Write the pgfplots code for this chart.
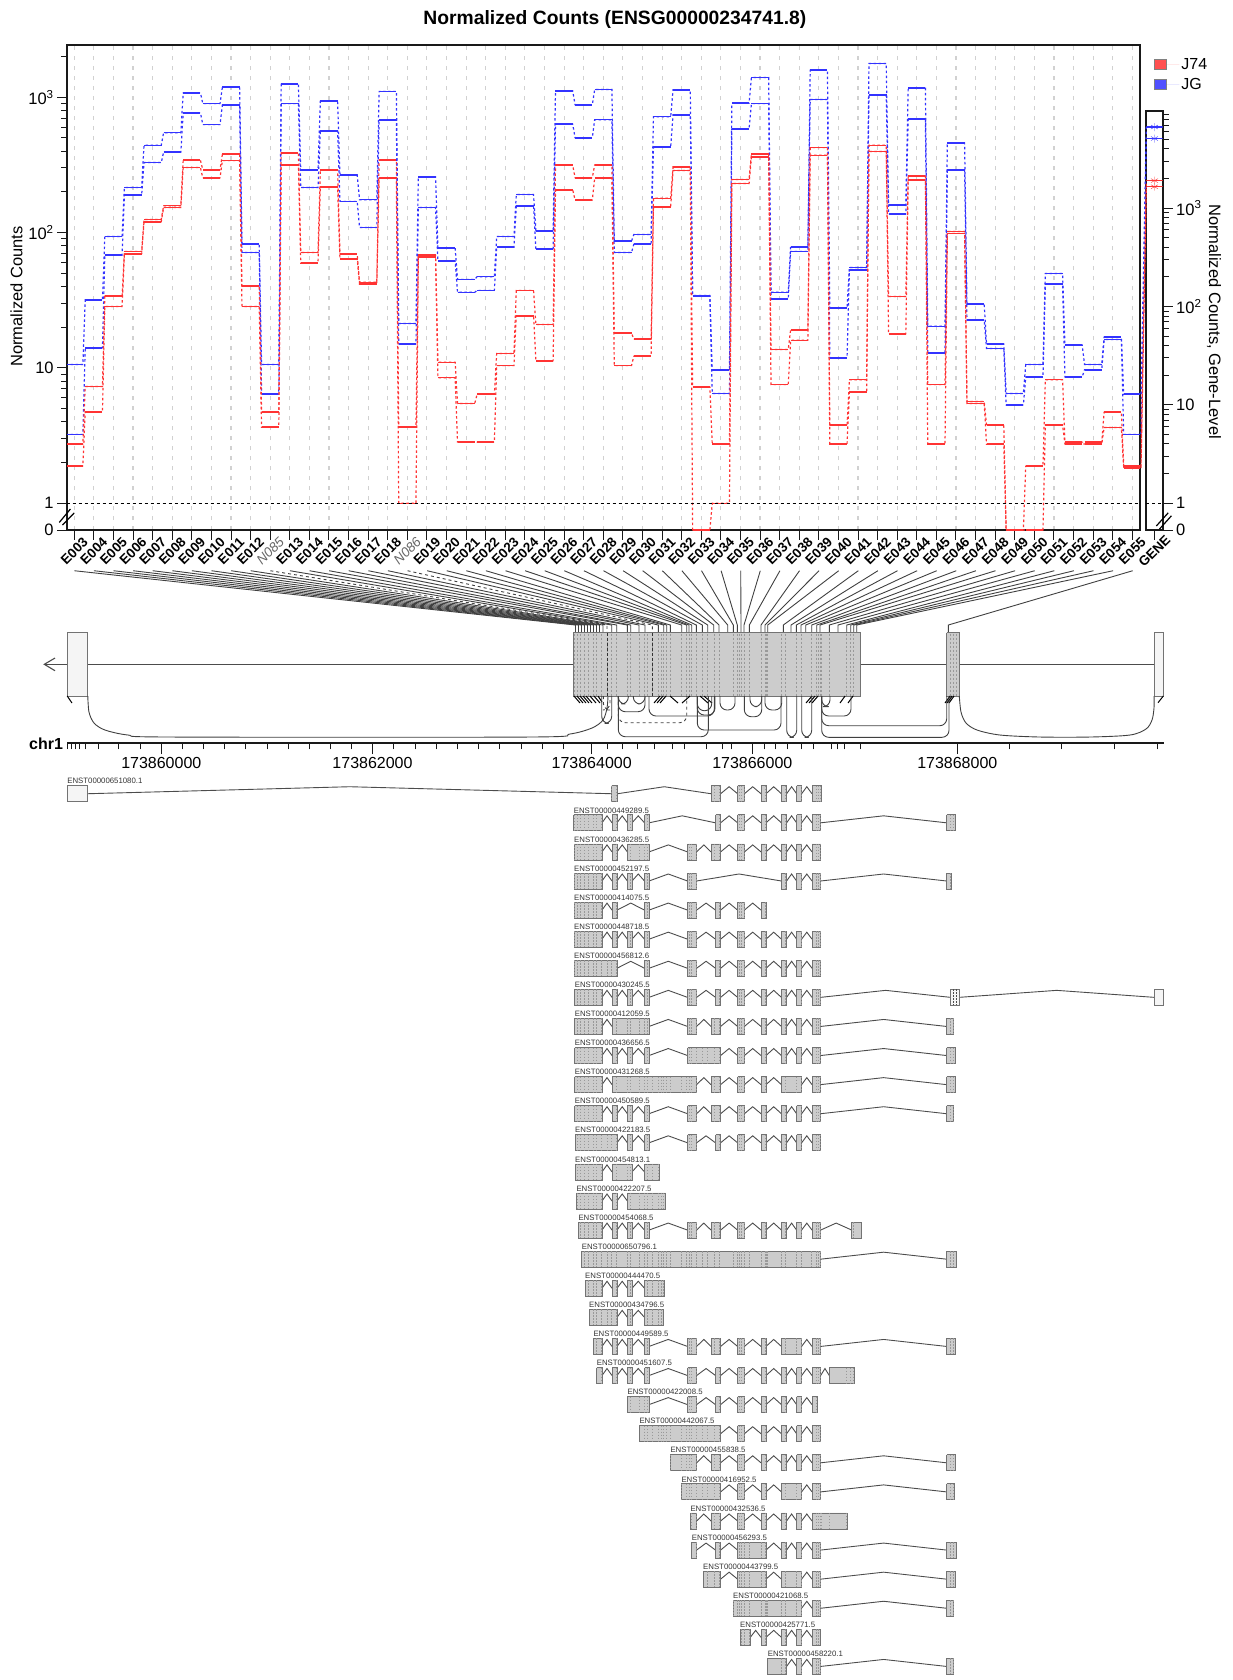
\documentclass[border=0pt]{standalone}
\usepackage{fontspec}
\setmainfont{Liberation Sans}
\usepackage{pgfplots}
\usepackage{pgfplotstable}
\pgfplotsset{compat=1.18}

\definecolor{lred}{HTML}{FF3333}
\definecolor{lblue}{HTML}{3333FF}
\definecolor{boxred}{HTML}{FF5050}
\definecolor{boxblue}{HTML}{5050FF}
\definecolor{exongray}{HTML}{CCCCCC}
\definecolor{exonlight}{HTML}{F5F5F5}

% 0.635 stands for the broken "0" level of the log axis
\pgfplotstableread{
idx bh bl rh rl
0 10.6 3.23 2.74 1.89
1 31.9 14.1 7.29 4.74
2 93.6 68 33.9 28.4
3 215 189 72.6 69.8
4 441 329 125 120
5 547 392 158 153
6 1076 767 342 302
7 896 627 291 254
8 1186 879 379 340
9 82.1 71.2 40.1 28.4
10 10.6 6.44 4.71 3.65
11 1249 896 389 316
12 289 215 71.2 59.3
13 938 565 291 218
14 267 170 69.3 64.1
15 175 109 42.9 41.5
16 1104 678 344 252
17 21.3 15.1 3.65 1
18 258 153 68 66.2
19 77 61.7 11 8.47
20 45.1 36.2 5.47 2.83
21 47.2 37.4 6.4 2.83
22 93.6 78 12.8 10.4
23 191 157 37.4 24.3
24 103 75.5 20.9 11.3
25 1111 631 314 207
26 879 502 254 174
27 1140 682 316 252
28 86.5 71.2 18.1 10.4
29 96.7 82.1 16.3 12.2
30 718 430 179 155
31 1133 742 306 287
32 34.3 34.1 7.24 0.635
33 9.64 6.48 2.73 1
34 902 583 247 230
35 1396 896 379 362
36 36.2 32.4 13.7 7.53
37 78.5 72.6 19.1 16
38 1580 963 424 372
39 27.7 11.9 3.78 2.73
40 55.2 52.7 8.19 6.61
41 1775 1042 441 397
42 160 137 33.7 17.9
43 1164 687 262 245
44 20.3 12.9 7.53 2.73
45 458 291 102 98.6
46 29.7 22.5 5.65 5.47
47 15 13.9 3.78 2.73
48 6.48 5.33 0.635 0.635
49 10.6 8.58 1.88 0.635
50 49.8 41.7 8.19 3.78
51 14.8 8.58 2.83 2.74
52 10.6 9.7 2.83 2.74
53 16.9 16.2 4.71 3.63
54 6.4 3.23 1.88 1.83
}\counts

\pgfplotsset{
  stepdots/.style={forget plot,no markers,line width=1.2pt,dash pattern=on 2.5pt off 2.5pt},
  stepbars/.style={forget plot,no markers,solid,line width=1.6pt,unbounded coords=jump},
  genemark/.style={only marks,mark=asterisk,mark size=4pt,
    error bars/x dir=both,error bars/x fixed=1,error bars/error mark=none,
    error bars/error bar style={line width=1.4pt}},
  exon/.style={draw=black!55,fill=exongray,line width=0.8pt,unbounded coords=jump,no markers},
  intron/.style={draw=black!70,line width=0.9pt,unbounded coords=jump,no markers},
  bindash/.style={draw=black!40,line width=0.5pt,dash pattern=on 1.5pt off 1.5pt,unbounded coords=jump,no markers},
  jarc/.style={draw=black!75,line width=0.9pt,no markers,rounded corners=7pt},
  conn/.style={draw=black!75,line width=0.9pt,no markers,unbounded coords=jump},
}

% one series: dotted path over all bins, solid bar on each bin
\newcommand\stepseries[2]{%
  \gdef\pts{}\gdef\bars{}%
  \foreach \i in {0,...,54} {%
    \pgfplotstablegetelem{\i}{#1}\of\counts
    \let\v\pgfplotsretval
    \pgfmathsetmacro\lft{\i-0.44}%
    \pgfmathsetmacro\rgt{\i+0.44}%
    \xdef\pts{\pts(\lft,\v)(\rgt,\v)}%
    \xdef\bars{\bars(\lft,\v)(\rgt,\v)(\rgt,nan)}%
  }%
  \edef\temp{\noexpand\addplot[stepdots,#2] coordinates {\pts};
    \noexpand\addplot[stepbars,#2] coordinates {\bars};}\temp
}

% exon bin boundaries, in page pixels of the rescaled gene axis
\def\binbounds{574.3,577.3,580.7,584.3,588.3,593,596,601.7,607,611.7,616.7,627.3,630.7,639,644.3,647.7,652.3,658.3,661.7,663.7,666,670.7,681.7,686.7,689,691.7,696.3,702.3,707.7,714,719.7,733.3,737.3,739,741,744,749.3,761,765,766.7,767.7,781,785.7,796.3,801,811.7,816.7,818.3,820,821.7,829.3,846.7,850.7,853.7,950,953,956}
\def\binpos{575.5,578.5,581.5,584.5,587.5,590.5,593.5,596.5,599.5,603,607,611.7,616.7,627.3,630.7,639,645,652.3,658.3,663.7,666.7,670.3,681.7,686.7,689,691.7,696.3,702.3,707.7,713.7,719,727.7,733.3,737.3,741,744,749.3,761,765,767.7,783.3,791,796.3,801,805.7,811.7,816.7,820,829.3,838,846.7,850.7,853.7,856.7,948.3}

% usual exons
\def\eB{612/617}\def\eC{627.4/632}\def\eD{644.5/649}\def\eF{687.5/696.6}
\def\eG{711/720.6}\def\eS{715.5/720.6}\def\eH{737.6/744.4}\def\eI{761/766}
\def\eJ{781.4/786.6}\def\eK{796.6/801.6}\def\eL{812/820.6}\def\eM{946.6/955}

\newcommand\transcript[3]{%
  \pgfmathsetmacro\yt{785.7+29.09*(#1-1)}%
  \pgfmathsetmacro\yb{\yt+16}%
  \pgfmathsetmacro\ym{\yt+8}%
  \pgfmathsetmacro\yp{\yt+1}%
  \pgfmathsetmacro\yl{\yt-4.5}%
  \edef\exonlist{#3}%
  \gdef\boxes{}\gdef\introns{}\gdef\inner{}\gdef\prev{}\gdef\first{}%
  \foreach \a/\b in \exonlist {%
    \xdef\boxes{\boxes(\a,\yt)(\b,\yt)(\b,\yb)(\a,\yb)(\a,\yt)(\a,nan)}%
    \ifx\prev\empty\xdef\first{\a}\else
      \pgfmathsetmacro\mm{(\prev+\a)/2}%
      \xdef\introns{\introns(\prev,\ym)(\mm,\yp)(\a,\ym)(\a,nan)}%
    \fi
    \xdef\prev{\b}%
    \foreach \s in \binbounds {%
      \ifdim\s pt>\a pt\ifdim\s pt<\b pt
        \xdef\inner{\inner(\s,\yt)(\s,\yb)(\s,nan)}%
      \fi\fi}%
  }%
  \edef\temp{\noexpand\addplot[intron] coordinates {\introns};
    \noexpand\addplot[exon] coordinates {\boxes};
    \noexpand\addplot[bindash] coordinates {\inner};
    \noexpand\node[anchor=west,inner sep=0pt,font=\noexpand\fontsize{7.8}{9}\noexpand\selectfont,text=black!80]
      at (axis cs:\first,\yl) {#2};}\temp
}
\newcommand\junc[3]{\addplot[jarc] coordinates {(#1,696)(#1,#3)(#2,#3)(#2,696)};}

\begin{document}
\begin{tikzpicture}
\path[use as bounding box] (0,0) rectangle (1233pt,-1680pt);

% main panel
\begin{axis}[
  at={(67.2pt,-530pt)},anchor=south west,
  width=1072.8pt,height=485.2pt,scale only axis,
  ymode=log,
  xmin=-0.36,xmax=54.39,ymin=0.635,ymax=2438,
  axis line style={line width=1.8pt,black!90},
  tick align=outside,xtick pos=bottom,ytick pos=left,
  major tick length=10pt,minor tick length=6pt,
  every tick/.style={black!90,line width=1pt},
  xtick={0,...,54},
  xticklabels={E003,E004,E005,E006,E007,E008,E009,E010,E011,E012,{\mdseries\itshape\color{black!60}N085},E013,E014,E015,E016,E017,E018,{\mdseries\itshape\color{black!60}N086},E019,E020,E021,E022,E023,E024,E025,E026,E027,E028,E029,E030,E031,E032,E033,E034,E035,E036,E037,E038,E039,E040,E041,E042,E043,E044,E045,E046,E047,E048,E049,E050,E051,E052,E053,E054,E055},
  ytick={0.635,1,10,100,1000},
  yticklabels={0,1,10,10\textsuperscript{2},10\textsuperscript{3}},
  minor ytick={2,3,4,5,6,7,8,9,20,30,40,50,60,70,80,90,200,300,400,500,600,700,800,900,2000},
  y tick label style={font=\fontsize{16.5}{19}\selectfont},
  x tick label style={font=\bfseries\fontsize{13.5}{15}\selectfont,yshift=-11pt,rotate=45,anchor=center},
  xmajorgrids,
  grid style={black!18,line width=1.1pt,dash pattern=on 4pt off 6pt},
  title={Normalized Counts (ENSG00000234741.8)},
  title style={at={(axis description cs:0.5106,1.039)},anchor=center,font=\bfseries\fontsize{19.3}{22}\selectfont},
  ylabel={Normalized Counts},
  ylabel style={at={(axis description cs:-0.0472,0.481)},anchor=center,font=\fontsize{16.5}{19}\selectfont},
  legend style={at={(axis description cs:1.0103,0.981)},anchor=north west,draw=none,fill=none,
    font=\fontsize{16}{18}\selectfont,row sep=3.5pt},
  legend cell align=left,
  legend image code/.code={\draw[#1] (0pt,-5pt) rectangle (12pt,5pt);\path[draw=none] (0pt,0pt) -- (25pt,0pt);},
]
\addlegendimage{fill=boxred,draw=black!50}
\addlegendentry{J74}
\addlegendimage{fill=boxblue,draw=black!50}
\addlegendentry{JG}
\stepseries{bh}{lblue}
\stepseries{bl}{lblue}
\stepseries{rh}{lred}
\stepseries{rl}{lred}
\addplot[forget plot,black,line width=1.1pt,dash pattern=on 3pt off 3pt] coordinates {(-1,1)(55,1)};
\end{axis}

% gene-level panel
\begin{axis}[
  at={(1146.3pt,-530pt)},anchor=south west,
  width=16.3pt,height=419pt,scale only axis,
  ymode=log,
  xmin=-1,xmax=1,ymin=0.534,ymax=9730,
  axis line style={line width=1.8pt,black!90},
  tick align=outside,xtick pos=bottom,ytick pos=right,yticklabel pos=right,
  major tick length=10pt,minor tick length=6pt,
  every tick/.style={black!90,line width=1pt},
  xtick={0},xticklabels={GENE},
  ytick={0.534,1,10,100,1000},
  yticklabels={0,1,10,10\textsuperscript{2},10\textsuperscript{3}},
  minor ytick={2,3,4,5,6,7,8,9,20,30,40,50,60,70,80,90,200,300,400,500,600,700,800,900,2000,3000,4000,5000,6000,7000,8000,9000},
  y tick label style={font=\fontsize{16.5}{19}\selectfont},
  x tick label style={font=\bfseries\fontsize{13.5}{15}\selectfont,yshift=-11pt,rotate=45,anchor=center},
  ylabel={Normalized Counts, Gene-Level},
  ylabel style={at={(axis description cs:4.15,0.4976)},anchor=center,rotate=180,font=\fontsize{16.5}{19}\selectfont},
]
\addplot[lblue,genemark] coordinates {(0,6683)(0,5105)};
\addplot[lred,genemark] coordinates {(0,1906)(0,1652)};
\addplot[black,line width=1.1pt,dash pattern=on 3pt off 3pt] coordinates {(-1,1)(1,1)};
\end{axis}

% chromosome axis
\begin{axis}[
  at={(67.2pt,-743.3pt)},anchor=south west,
  width=1096.5pt,height=10pt,scale only axis,
  xmin=67.2,xmax=1163.7,ymin=0,ymax=1,
  axis x line=bottom,axis y line=none,
  axis line style={-,line width=2pt,black!90},
  tick align=outside,
  major tick length=10.7pt,minor tick length=6pt,
  every tick/.style={black!90,line width=1pt},
  xtick={161.3,372.5,591.7,752.3,957.3},
  xticklabels={173860000,173862000,173864000,173866000,173868000},
  minor xtick={67.2,71.2,75.1,79,85,98,118.6,140,182.3,203.6,224.6,245.6,267,288.3,309.6,330.6,351.5,393.8,415.2,436.1,457.5,478.5,499.8,521.2,542.1,563.5,607.3,622.3,637.7,654.3,672.7,684.3,706.7,722.7,731.7,764.3,775.7,787.7,801.7,813.3,831,837.7,844.3,860,1009,1061.7,1114.3,1157.3},
  x tick label style={font=\fontsize{16}{18}\selectfont,anchor=center,yshift=-9pt},
  xlabel={chr1},
  xlabel style={at={(axis description cs:-0.0193,0)},anchor=center,font=\bfseries\fontsize{16}{18}\selectfont},
]
\end{axis}

% gene model, connectors and transcripts, in page pixels
\begin{axis}[
  at={(0pt,-1680pt)},anchor=south west,
  width=1233pt,height=1680pt,scale only axis,
  xmin=0,xmax=1233,ymin=0,ymax=1680,y dir=reverse,
  hide axis,clip=false,
]
% lines from E055 to the gene-level panel
\addplot[lblue,line width=1.2pt,dash pattern=on 2.5pt off 2.5pt] coordinates {(1141,394)(1146.3,127)};
\addplot[lblue,line width=1.2pt,dash pattern=on 2.5pt off 2.5pt] coordinates {(1141,434)(1146.3,138.5)};
\addplot[lred,line width=1.2pt,dash pattern=on 2.5pt off 2.5pt] coordinates {(1141,466)(1146.3,180.6)};
\addplot[lred,line width=1.2pt,dash pattern=on 2.5pt off 2.5pt] coordinates {(1141,468)(1146.3,186.8)};
% axis breaks
\addplot[conn,black,line width=1.2pt] coordinates {(59.3,522.4)(70.4,509)(70.4,nan)(62.5,525)(74.3,512.8)};
\addplot[conn,black,line width=1.2pt] coordinates {(1156.3,526)(1168.2,512.8)(1168.2,nan)(1159.5,529)(1171.4,515.8)};
% label to bin connectors
\foreach \p [count=\i from 0] in \binpos {
  \pgfmathsetmacro\tx{74.3+19.6*\i}
  \ifnum\i=10 \def\st{dashed}\else\ifnum\i=17 \def\st{dashed}\else\def\st{solid}\fi\fi
  \edef\temp{\noexpand\addplot[conn,\st] coordinates {(\tx,570.7)(\p,625)(\p,632.7)};}\temp
}
% gene body
\addplot[draw=black!70,line width=1.1pt] coordinates {(44.3,664.3)(1154,664.3)};
\addplot[draw=black!70,line width=1.1pt] coordinates {(55,658)(44.3,664.3)(55,670.7)};
\addplot[exon,fill=exonlight] coordinates {(67.2,632.7)(87.8,632.7)(87.8,696)(67.2,696)(67.2,632.7)};
\addplot[exon] coordinates {(573.3,632.7)(860.3,632.7)(860.3,696)(573.3,696)(573.3,632.7)};
\addplot[exon] coordinates {(946.7,632.7)(959.3,632.7)(959.3,696)(946.7,696)(946.7,632.7)};
\addplot[exon,fill=exonlight] coordinates {(1154,632.7)(1163.3,632.7)(1163.3,696)(1154,696)(1154,632.7)};
\foreach \s in \binbounds {
  \edef\temp{\noexpand\addplot[bindash,dash pattern=on 2pt off 2pt] coordinates {(\s,633.5)(\s,695.5)};}\temp
}
\addplot[draw=black!80,line width=0.9pt,dash pattern=on 3pt off 2pt] coordinates {(607,632.7)(607,696)};
\addplot[draw=black!80,line width=0.9pt,dash pattern=on 3pt off 2pt] coordinates {(652.3,632.7)(652.3,696)};
% junction stubs
\addplot[conn,black,line width=1pt] coordinates {(574,696)(580,703)(580,nan)(577,696)(583,703)(583,nan)(580,696)(586,703)(586,nan)(583,696)(589,703)(589,nan)(586,696)(592,703)(592,nan)(590,696)(596,703)(596,nan)(594,696)(600,703)(600,nan)(598,696)(602,702)(602,nan)(660,696)(654,703)(654,nan)(663,696)(657,703)(657,nan)(666,696)(660,703)(660,nan)(670,696)(678,703)(678,nan)(690,696)(682,703)(682,nan)(700,696)(708,703)(708,nan)(704,696)(712,703)(712,nan)(812,696)(806,703)(806,nan)(815,696)(809,703)(809,nan)(818,696)(812,703)(812,nan)(845,696)(840,703)(840,nan)(853,696)(848,703)(848,nan)(67.2,696)(72,703)(72,nan)(1163.3,696)(1158,702.7)(1158,nan)(950,696)(945,703)(945,nan)(952,696)(947,703)(947,nan)(954,696)(949,703)};
% splice junctions
\addplot[jarc,smooth,rounded corners=0pt] coordinates {(87.8,696)(89,712)(94,723)(105,730)(128,735)(170,737)(530,737)(570,734)(592,728)(603,720)(607,708)(608,696)};
\addplot[jarc,smooth,rounded corners=0pt] coordinates {(959.3,696)(961,712)(966,723)(977,730)(1000,735)(1040,737)(1090,737)(1130,735)(1146,729)(1152,720)(1154,708)(1154,696)};
\junc{601.7}{611.7}{723.3}
\addplot[jarc,dashed] coordinates {(603.3,696)(603.3,710)(610,710)(610,696)};
\junc{618.3}{628.3}{704}
\junc{618.3}{645}{711.7}
\addplot[jarc,dashed] coordinates {(618.3,696)(618.3,722.7)(686.7,722.7)(686.7,696)};
\junc{618.3}{708.3}{736.7}
\junc{633.3}{645}{704}
\junc{649}{714.3}{716}
\junc{697.3}{711.7}{710.7}
\junc{697.3}{781}{730}
\junc{697.3}{715}{715}
\junc{720}{735}{710}
\junc{744.3}{761.7}{716.7}
\junc{750}{761.7}{706.7}
\junc{765}{781.7}{710}
\junc{786.7}{796.7}{737.3}
\junc{801.7}{811.7}{737.3}
\junc{821.7}{830}{706.7}
\junc{821.7}{851}{716}
\junc{821.7}{946.7}{725.7}
\junc{821.7}{949}{737.3}
% transcripts
\transcript{1}{ENST00000651080.1}{67.2/87.8,611.5/617.5,711/720.6,\eH,\eI,\eJ,\eK,812/821}
\transcript{2}{ENST00000449289.5}{573.7/602,\eB,\eC,\eD,\eS,\eH,\eI,\eJ,\eK,\eL,\eM}
\transcript{3}{ENST00000436285.5}{574/602,\eB,627.4/649,\eF,\eG,\eH,\eI,\eJ,\eK,\eL}
\transcript{4}{ENST00000452197.5}{574/602,\eB,\eC,\eD,\eF,\eJ,\eK,\eL,946.6/951.5}
\transcript{5}{ENST00000414075.5}{574/602,\eB,\eD,\eF,\eS,\eH,\eI}
\transcript{6}{ENST00000448718.5}{574/602,\eB,\eC,\eD,\eF,\eS,\eH,\eI,\eJ,\eK,\eL}
\transcript{7}{ENST00000456812.6}{574/617,\eD,\eF,\eS,\eH,\eI,\eJ,\eK,\eL}
\transcript{8}{ENST00000430245.5}{574.6/602,\eB,\eC,\eD,\eF,\eS,\eH,\eI,\eJ,\eK,\eL,950.6/959,1154.4/1163}
\transcript{9}{ENST00000412059.5}{574.6/602,612/649,\eF,\eG,\eH,\eI,\eJ,\eK,\eL,946.6/953.5}
\transcript{10}{ENST00000436656.5}{574.6/602,\eB,\eC,\eD,687.5/720.6,\eH,\eI,\eJ,\eK,\eL,\eM}
\transcript{11}{ENST00000431268.5}{574.6/602,612/696.6,\eG,\eH,\eI,781.4/801.6,\eL,\eM}
\transcript{12}{ENST00000450589.5}{574.6/602,\eB,\eC,\eD,\eF,\eG,\eH,\eI,\eJ,\eK,\eL,946.6/953.5}
\transcript{13}{ENST00000422183.5}{575/617,\eC,\eD,\eF,\eS,\eH,\eI,\eJ,\eK,\eL}
\transcript{14}{ENST00000454813.1}{575/602,612/632,644.5/659}
\transcript{15}{ENST00000422207.5}{576.3/602,\eB,627.4/665.6}
\transcript{16}{ENST00000454068.5}{578.3/602,\eB,\eC,\eD,\eF,\eG,\eH,\eI,\eJ,\eK,\eL,851.7/861.3}
\transcript{17}{ENST00000650796.1}{581.7/820.6,946.6/956}
\transcript{18}{ENST00000444470.5}{585/602,\eB,\eC,644.5/664.3}
\transcript{19}{ENST00000434796.5}{589/617,\eC,644.5/663.3}
\transcript{20}{ENST00000449589.5}{593.3/602,\eB,\eC,\eD,\eF,\eG,\eH,\eI,781.4/801.6,\eL,\eM}
\transcript{21}{ENST00000451607.5}{596.7/602,\eB,\eC,\eD,\eF,\eS,\eH,\eI,\eJ,\eK,\eL,829.3/854}
\transcript{22}{ENST00000422008.5}{627.4/649,\eF,\eS,\eH,\eI,\eJ,\eK,812/817}
\transcript{23}{ENST00000442067.5}{639.3/720.6,\eH,\eI,\eJ,\eK,\eL}
\transcript{24}{ENST00000455838.5}{670.3/696.6,\eG,\eH,\eI,\eJ,\eK,\eL,\eM}
\transcript{25}{ENST00000416952.5}{681.3/720.6,\eH,\eI,781.4/801.6,\eL,946.6/954.3}
\transcript{26}{ENST00000432536.5}{690.3/696.6,\eG,\eH,\eI,\eJ,\eK,812/847.3}
\transcript{27}{ENST00000456293.5}{691.7/696.6,\eS,737.6/766,\eJ,\eK,\eL,946.6/956}
\transcript{28}{ENST00000443799.5}{703/720.6,737.6/766,781.4/801.6,\eL,\eM}
\transcript{29}{ENST00000421068.5}{733/801.6,\eL,946.6/953.3}
\transcript{30}{ENST00000425771.5}{740/750.3,\eI,\eJ,\eK,812/820}
\transcript{31}{ENST00000458220.1}{767.7/786.6,\eK,\eL,946.6/953.3}
% pale exons
\addplot[exon,fill=exonlight] coordinates {(67.2,785.7)(87.8,785.7)(87.8,801.7)(67.2,801.7)(67.2,785.7)};
\addplot[exon,fill=exonlight] coordinates {(950.6,989.3)(959,989.3)(959,1005.3)(950.6,1005.3)(950.6,989.3)};
\addplot[bindash,draw=black!70] coordinates {(953,989.3)(953,1005.3)(953,nan)(956,989.3)(956,1005.3)};
\addplot[exon,fill=exonlight] coordinates {(1154.4,989.3)(1163,989.3)(1163,1005.3)(1154.4,1005.3)(1154.4,989.3)};
\end{axis}
\end{tikzpicture}
\end{document}
